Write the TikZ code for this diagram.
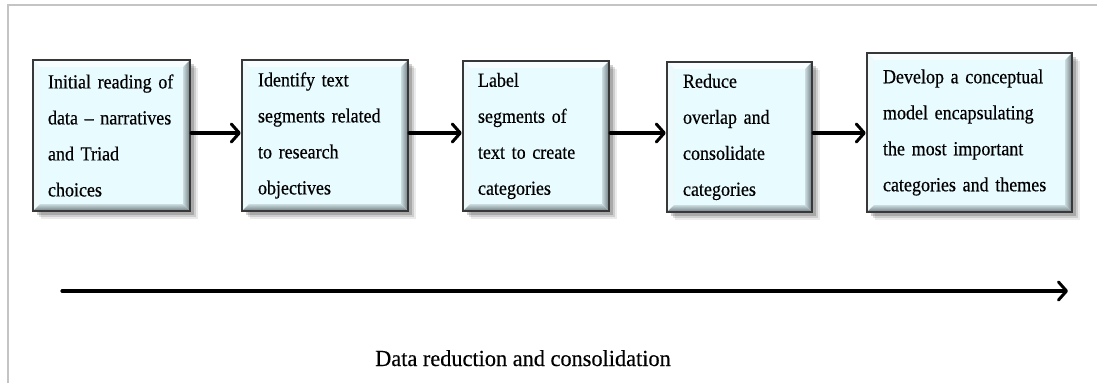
\documentclass[tikz,border=0pt]{standalone}
\usepackage{fontspec}
\setmainfont{Liberation Serif}
\newfontfamily\boxfont{Liberation Serif}[FakeStretch=0.9, FakeBold=0.4, Ligatures=TeX]
\newfontfamily\capfont{Liberation Serif}[FakeStretch=0.97, FakeBold=0.4, Ligatures=TeX]
\usetikzlibrary{arrows.meta,calc}

\definecolor{framegray}{HTML}{C4C4C4}
\definecolor{boxfill}{HTML}{E8FBFF}
\definecolor{boxedge}{HTML}{383838}
\definecolor{bevlight}{HTML}{F8FEFF}
\definecolor{bevleft}{HTML}{EEF9FB}
\definecolor{bevmid}{HTML}{CBDCDF}
\definecolor{bevdark}{HTML}{6E7C82}

\newcommand{\bevw}{7pt}

\tikzset{
  stepbox/.style={
    rectangle, draw=boxedge, line width=2.4pt, fill=boxfill,
    inner sep=0pt, align=left, anchor=center,
    font=\boxfont\fontsize{20}{36}\selectfont,
    % soft drop shadow towards the lower right
    preaction={fill=black, opacity=0.08, transform canvas={xshift=8pt, yshift=-8pt}},
    preaction={fill=black, opacity=0.12, transform canvas={xshift=6pt, yshift=-6pt}},
    preaction={fill=black, opacity=0.18, transform canvas={xshift=3.5pt, yshift=-3.5pt}},
    % bevelled rim inside the border
    path picture={
      \coordinate (pa) at (path picture bounding box.north west);
      \coordinate (pb) at (path picture bounding box.north east);
      \coordinate (pc) at (path picture bounding box.south east);
      \coordinate (pd) at (path picture bounding box.south west);
      \fill[bevlight] (pa) -- (pb) -- ($(pb)+(-\bevw,-\bevw)$) -- ($(pa)+(\bevw,-\bevw)$) -- cycle;
      \fill[bevleft] (pa) -- ($(pa)+(\bevw,-\bevw)$) -- ($(pd)+(\bevw,\bevw)$) -- (pd) -- cycle;
      \shade[left color=bevmid, right color=bevdark]
        (pb) -- (pc) -- ($(pc)+(-\bevw,\bevw)$) -- ($(pb)+(-\bevw,-\bevw)$) -- cycle;
      \shade[top color=bevmid, bottom color=bevdark]
        (pd) -- (pc) -- ($(pc)+(-\bevw,\bevw)$) -- ($(pd)+(\bevw,\bevw)$) -- cycle;
    }
  },
  conn/.style={line width=3.2pt, line cap=round, line join=round,
    -{Straight Barb[length=8pt, width=18pt, line width=3pt, round]}},
}

\begin{document}
\begin{tikzpicture}[x=1pt, y=-1pt]
  \useasboundingbox (0,0) rectangle (1097,383);

  % outer frame (left and top edges)
  \draw[framegray, line width=2pt] (8,383) -- (8,5) -- (1097,5);

  % process steps
  \node[stepbox, minimum width=157pt, minimum height=151pt, text width=127pt] (b1) at (111.5,135.5)
    {Initial reading of\\data – narratives\\and Triad\\choices};
  \node[stepbox, minimum width=166pt, minimum height=151pt, text width=134pt] (b2) at (325,135.5)
    {Identify text\\segments related\\to research\\objectives};
  \node[stepbox, minimum width=146pt, minimum height=150pt, text width=116pt] (b3) at (536,136)
    {Label\\segments of\\text to create\\categories};
  \node[stepbox, minimum width=145pt, minimum height=150pt, text width=113pt] (b4) at (739.5,137)
    {Reduce\\overlap and\\consolidate\\categories};
  \node[stepbox, minimum width=205pt, minimum height=159pt, text width=173pt] (b5) at (969.5,132.5)
    {Develop a conceptual\\model encapsulating\\the most important\\categories and themes};

  % connectors between steps
  \coordinate (lane) at (0,133);
  \draw[conn] (b1.east |- lane) -- (b2.west |- lane);
  \draw[conn] (b2.east |- lane) -- (b3.west |- lane);
  \draw[conn] (b3.east |- lane) -- (b4.west |- lane);
  \draw[conn] (b4.east |- lane) -- (b5.west |- lane);

  % overall direction arrow and its caption
  \coordinate (axs) at (62,291);
  \coordinate (axe) at (1068,291);
  \draw[conn] (axs) -- (axe);
  \node[anchor=base, inner sep=0pt, font=\capfont\fontsize{23}{26}\selectfont] (cap) at (523,366)
    {Data reduction and consolidation};
\end{tikzpicture}
\end{document}
